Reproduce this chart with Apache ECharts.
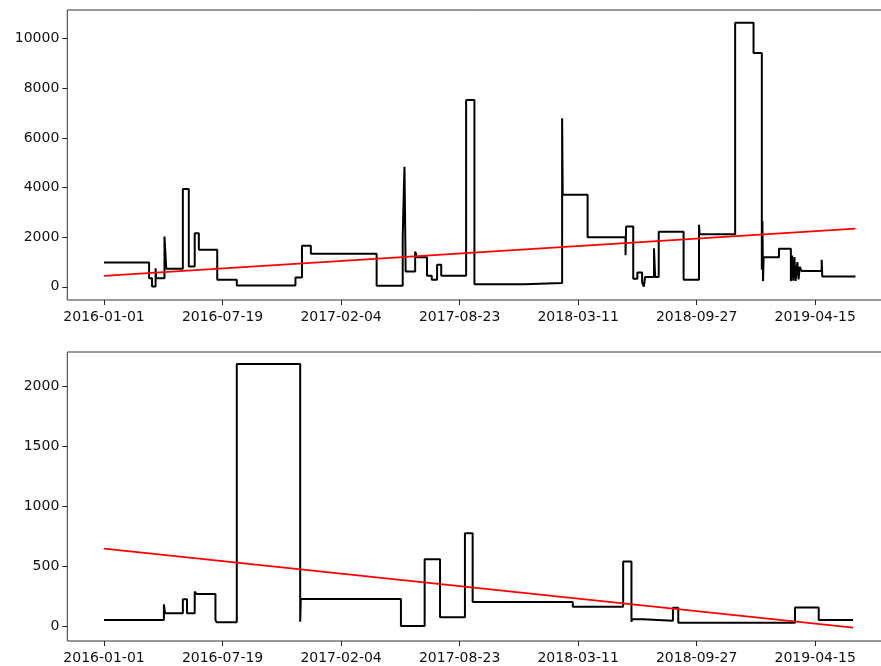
<!DOCTYPE html>
<html>
<head>
<meta charset="utf-8">
<script src="https://cdn.jsdelivr.net/npm/echarts@6/dist/echarts.min.js"></script>
<style>
  html, body { margin: 0; padding: 0; background: #fff; }
  #chart { width: 881px; height: 666px; }
</style>
</head>
<body>
<div id="chart"></div>
<script>
// Day offsets are counted from 2016-01-01; each value holds until the next change.
const startDate = '2016-01-01';

const topDays = [0, 76, 81, 87, 88, 102, 105, 133, 143, 153, 160, 191, 224, 323, 334, 349, 460,
  504, 506, 507, 509, 525, 528, 545, 553, 562, 569, 611, 625, 709, 773, 774, 816, 880, 881, 893,
  900, 908, 911, 913, 928, 930, 936, 978, 1004, 1005, 1065, 1096, 1110, 1111, 1112, 1113, 1139,
  1159, 1161, 1163, 1165, 1167, 1170, 1172, 1174, 1177, 1211, 1212, 1268];
const topValues = [980, 350, 10, 750, 350, 2025, 724, 3945, 817, 2160, 1490, 282, 50, 375, 1650, 1330, 40,
  2000, 4000, 4840, 616, 1420, 1195, 443, 282, 885, 443, 7530, 108, 150, 6790, 3710, 2000, 1270, 2430, 330,
  576, 173, 10, 400, 1557, 400, 2220, 282, 2496, 2120, 10640, 9420, 700, 2650, 230, 1190, 1530,
  230, 1260, 250, 1200, 240, 1000, 300, 800, 640, 1087, 415, 415];

const bottomDays = [0, 101, 103, 133, 140, 153, 156, 188, 190, 224, 331, 332, 501, 541, 567, 609, 622,
  791, 876, 890, 891, 910, 960, 969, 1166, 1206, 1264];
const bottomValues = [50, 181, 106, 223, 106, 287, 268, 50, 31, 2190, 36, 226, 0, 558, 73, 776, 200,
  162, 540, 36, 56, 45, 153, 28, 155, 50, 50];

// Straight trend lines: [first day, last day] and their values
const topTrendDays = [0, 1268];
const topTrendValues = [443, 2347];
const bottomTrendDays = [0, 1264];
const bottomTrendValues = [647, -14];

// Tick positions
const xTickDays = [0, 200, 400, 600, 800, 1000, 1200];
const topYTicks = [0, 2000, 4000, 6000, 8000, 10000];
const bottomYTicks = [0, 500, 1000, 1500, 2000];

const pairs = (xs, ys) => xs.map((x, i) => [x, ys[i]]);
const base = Date.parse(startDate + 'T00:00:00Z');
const dayLabel = d => new Date(base + d * 86400000).toISOString().slice(0, 10);

const font = { fontFamily: 'DejaVu Sans', fontSize: 14, color: '#111' };
const tickStyle = { show: true, length: 5, inside: false, lineStyle: { color: '#222', width: 1 } };

function xAxis(gridIndex) {
  return {
    type: 'value', gridIndex, min: -62, max: 1330,
    axisLine: { show: false, onZero: false },
    splitLine: { show: false },
    axisTick: Object.assign({ customValues: xTickDays }, tickStyle),
    axisLabel: Object.assign({ margin: 10, customValues: xTickDays, formatter: v => dayLabel(v) }, font)
  };
}
function yAxis(gridIndex, min, max, ticks) {
  return {
    type: 'value', gridIndex, min, max,
    axisLine: { show: false, onZero: false },
    splitLine: { show: false },
    axisTick: Object.assign({ customValues: ticks }, tickStyle),
    axisLabel: Object.assign({ margin: 8, customValues: ticks, formatter: v => String(v) }, font)
  };
}

// The plot boxes run past the right edge of the canvas, so the right spine is cut off.
const gridBase = { left: 67.3, width: 824.9, outerBoundsMode: 'none', containLabel: false,
  show: true, borderColor: '#333', borderWidth: 1, backgroundColor: 'transparent' };

const chart = echarts.init(document.getElementById('chart'), null, { renderer: 'canvas' });
chart.setOption({
  animation: false,
  backgroundColor: '#fff',
  grid: [
    Object.assign({ top: 10, height: 290 }, gridBase),
    Object.assign({ top: 352, height: 289 }, gridBase)
  ],
  xAxis: [xAxis(0), xAxis(1)],
  yAxis: [yAxis(0, -531, 11151, topYTicks), yAxis(1, -125, 2290, bottomYTicks)],
  series: [
    { type: 'line', xAxisIndex: 0, yAxisIndex: 0, step: 'end', showSymbol: false, symbol: 'none',
      data: pairs(topDays, topValues), lineStyle: { color: '#000', width: 2 } },
    { type: 'line', xAxisIndex: 0, yAxisIndex: 0, showSymbol: false, symbol: 'none',
      data: pairs(topTrendDays, topTrendValues), lineStyle: { color: '#ff0000', width: 1.8 } },
    { type: 'line', xAxisIndex: 1, yAxisIndex: 1, step: 'end', showSymbol: false, symbol: 'none',
      data: pairs(bottomDays, bottomValues), lineStyle: { color: '#000', width: 2 } },
    { type: 'line', xAxisIndex: 1, yAxisIndex: 1, showSymbol: false, symbol: 'none',
      data: pairs(bottomTrendDays, bottomTrendValues), lineStyle: { color: '#ff0000', width: 1.8 } }
  ]
});
</script>
</body>
</html>
